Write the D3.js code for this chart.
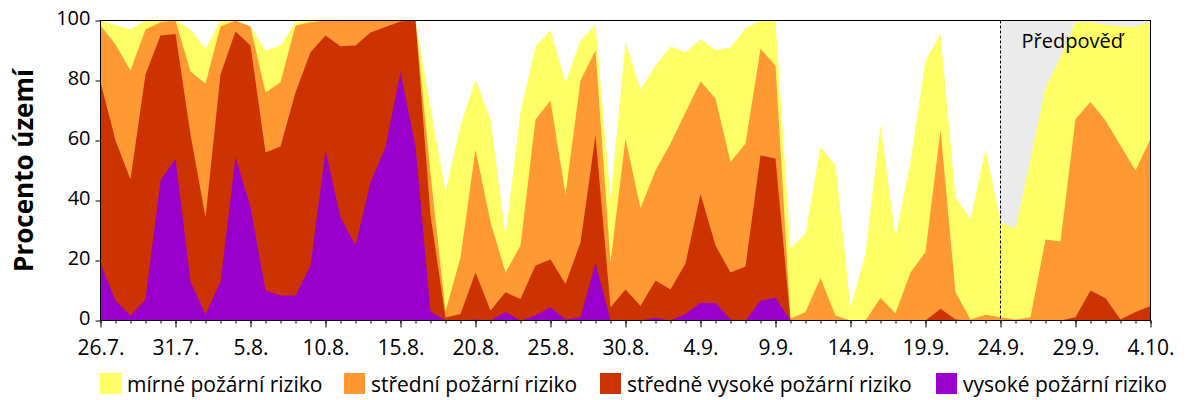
<!DOCTYPE html>
<html>
<head>
<meta charset="utf-8">
<script src="https://cdn.jsdelivr.net/npm/d3@7"></script>
<style>
  html, body { margin: 0; padding: 0; background: #fff; }
  svg { display: block; font-family: "Open Sans", sans-serif; }
</style>
</head>
<body>
<svg id="chart" width="1200" height="400"></svg>
<script>
'use strict';

// x ticks, one every 5 days (day 0 = 26.7., day 70 = 4.10.)
var tickLabels = ['26.7.', '31.7.', '5.8.', '10.8.', '15.8.', '20.8.', '25.8.', '30.8.',
    '4.9.', '9.9.', '14.9.', '19.9.', '24.9.', '29.9.', '4.10.'];
var yTicks = [0, 20, 40, 60, 80, 100];

// percent of territory with at least the given risk level, one value per day
var mirne = [100, 98.5, 97, 100, 100, 100, 97, 90.5, 100, 100, 98, 90, 91.7, 99.4, 100,
    100, 100, 100, 100, 100, 100, 100, 71, 43, 65, 80.3, 67, 28.3, 69.4, 91.4,
    96.7, 79.4, 93.3, 98.6, 40.6, 92.8, 77, 85, 91.3, 89.4, 93.7, 90.2, 91, 97.4, 99.8,
    100, 23.9, 29, 57.8, 51.7, 4.4, 22.2, 65.2, 27.8, 52.8, 86.7, 95.6, 41, 33.9, 57.2,
    32.8, 30.6, 53.9, 77.8, 87.8, 99.4, 99.4, 98.6, 98.1, 97.8, 99.7];
var stredni = [98.3, 92, 83.3, 97, 99.4, 100, 83, 79, 98, 100, 98, 76, 79.4, 98.3, 99.4,
    100, 100, 100, 100, 100, 100, 100, 49, 3, 21, 57, 32.8, 16, 25, 67,
    73.3, 42, 80, 90, 19.4, 60.6, 37.4, 50, 59, 69.4, 79.7, 74, 52.8, 59, 90.6,
    85, 0.6, 2.8, 14.2, 1.7, 0, 0, 7.6, 2.4, 16, 22.8, 63.6, 9.4, 0.3, 1.9,
    1.1, 0.3, 1.1, 27, 26.3, 67.2, 72.8, 66.7, 58.3, 50, 60.6];
var stredneVysoke = [79.4, 60, 47, 82, 95, 95.5, 62, 34.4, 82, 96.3, 91.7, 56, 58, 76, 89.4,
    95, 91.4, 91.7, 96, 97.8, 99.7, 100, 35, 1, 2.2, 16, 3.3, 9.4, 7.2, 18.3,
    20.3, 12.2, 26, 61.7, 4.4, 10.3, 4.8, 13.3, 10.3, 19, 42.2, 25, 16, 18, 55,
    54, 0, 0, 0, 0, 0, 0, 0, 0, 0, 0, 3.9, 0.3, 0, 0,
    0, 0, 0, 0, 0, 1.1, 10, 7.4, 0.3, 2.8, 4.8];
var vysoke = [19, 6.7, 1.7, 7, 46.7, 54, 13, 2, 12.8, 54.4, 37.8, 10, 8.3, 8.3, 18.3,
    56.7, 34.4, 25, 46, 57.8, 82.8, 58, 3, 0, 0, 0.3, 0, 2.8, 0, 1.7,
    4.4, 0.3, 1.1, 19.2, 0, 0, 0, 0.9, 0, 2.2, 5.9, 5.8, 0.3, 0, 6.7,
    7.6, 0, 0, 0, 0, 0, 0, 0, 0, 0, 0, 0, 0, 0, 0,
    0, 0, 0, 0, 0, 0, 0, 0, 0, 0, 0];

var seriesNames = ['mírné požární riziko', 'střední požární riziko',
    'středně vysoké požární riziko', 'vysoké požární riziko'];
var seriesColors = ['#ffff66', '#ff9933', '#cc3300', '#9900cc'];
var forecastStart = 60;

var svg = d3.select('#chart'),
    margin = {left: 100.5, right: 49.5, top: 20.5, bottom: 79.5},
    width = 1200 - margin.left - margin.right,
    height = 400 - margin.top - margin.bottom;

var x = d3.scaleLinear().domain([0, mirne.length - 1]).range([margin.left, margin.left + width]);
var y = d3.scaleLinear().domain([0, 100]).range([margin.top + height, margin.top]);

//forecast background
svg.append('rect')
    .attr('x', x(forecastStart))
    .attr('y', y(100))
    .attr('width', x(mirne.length - 1) - x(forecastStart))
    .attr('height', y(0) - y(100))
    .attr('fill', '#ebebeb');

//each level is drawn from zero, higher levels painted over lower ones
var area = d3.area()
    .x(function(d, i) { return x(i); })
    .y0(y(0))
    .y1(function(d) { return y(d); });

svg.selectAll('path.level')
    .data([mirne, stredni, stredneVysoke, vysoke])
    .enter()
    .append('path')
    .attr('class', 'level')
    .attr('d', area)
    .attr('fill', function(d, i) { return seriesColors[i]; });

//dashed line where the forecast starts
svg.append('line')
    .attr('x1', x(forecastStart))
    .attr('x2', x(forecastStart))
    .attr('y1', y(100))
    .attr('y2', y(0))
    .attr('stroke', '#000')
    .attr('stroke-width', 1)
    .attr('stroke-dasharray', '3,2');

svg.append('text')
    .attr('x', x(forecastStart) + 21)
    .attr('y', 48)
    .attr('font-size', 20)
    .attr('fill', '#000')
    .text('Předpověď');

//frame
svg.append('rect')
    .attr('x', margin.left)
    .attr('y', margin.top)
    .attr('width', width)
    .attr('height', height)
    .attr('fill', 'none')
    .attr('stroke', '#000')
    .attr('shape-rendering', 'crispEdges');

//minor ticks every day
var minorAxis = svg.append('g')
    .attr('transform', 'translate(0,' + y(0) + ')')
    .call(d3.axisBottom(x).tickValues(d3.range(mirne.length)).tickSize(3).tickFormat(''));
minorAxis.select('.domain').remove();

var xAxis = svg.append('g')
    .attr('transform', 'translate(0,' + y(0) + ')')
    .call(d3.axisBottom(x)
        .tickValues(d3.range(0, mirne.length, 5))
        .tickSize(7)
        .tickFormat(function(d, i) { return tickLabels[i]; }));
xAxis.select('.domain').remove();
xAxis.selectAll('text')
    .attr('y', 34)
    .attr('dy', 0)
    .attr('font-size', 21)
    .attr('font-family', '"Open Sans", sans-serif')
    .attr('fill', '#000');

var yAxis = svg.append('g')
    .attr('transform', 'translate(' + margin.left + ',0)')
    .call(d3.axisLeft(y).tickValues(yTicks).tickSize(5).tickPadding(5));
yAxis.select('.domain').remove();
yAxis.selectAll('text')
    .attr('dy', '0.22em')
    .attr('font-size', 20)
    .attr('font-family', '"Open Sans", sans-serif')
    .attr('fill', '#000');

svg.append('text')
    .attr('transform', 'translate(33,' + y(50) + ') rotate(-90)')
    .attr('text-anchor', 'middle')
    .attr('font-size', 26)
    .attr('font-weight', 'bold')
    .attr('fill', '#000')
    .text('Procento území');

//legend
var legendX = [100, 344, 600, 936];
var legend = svg.selectAll('g.legend')
    .data(seriesNames)
    .enter()
    .append('g')
    .attr('class', 'legend')
    .attr('transform', function(d, i) { return 'translate(' + legendX[i] + ',373)'; });

legend.append('rect')
    .attr('width', 21)
    .attr('height', 21)
    .attr('fill', function(d, i) { return seriesColors[i]; });

legend.append('text')
    .attr('x', 27)
    .attr('y', 19)
    .attr('font-size', 21)
    .attr('fill', '#000')
    .text(function(d) { return d; });
</script>
</body>
</html>
